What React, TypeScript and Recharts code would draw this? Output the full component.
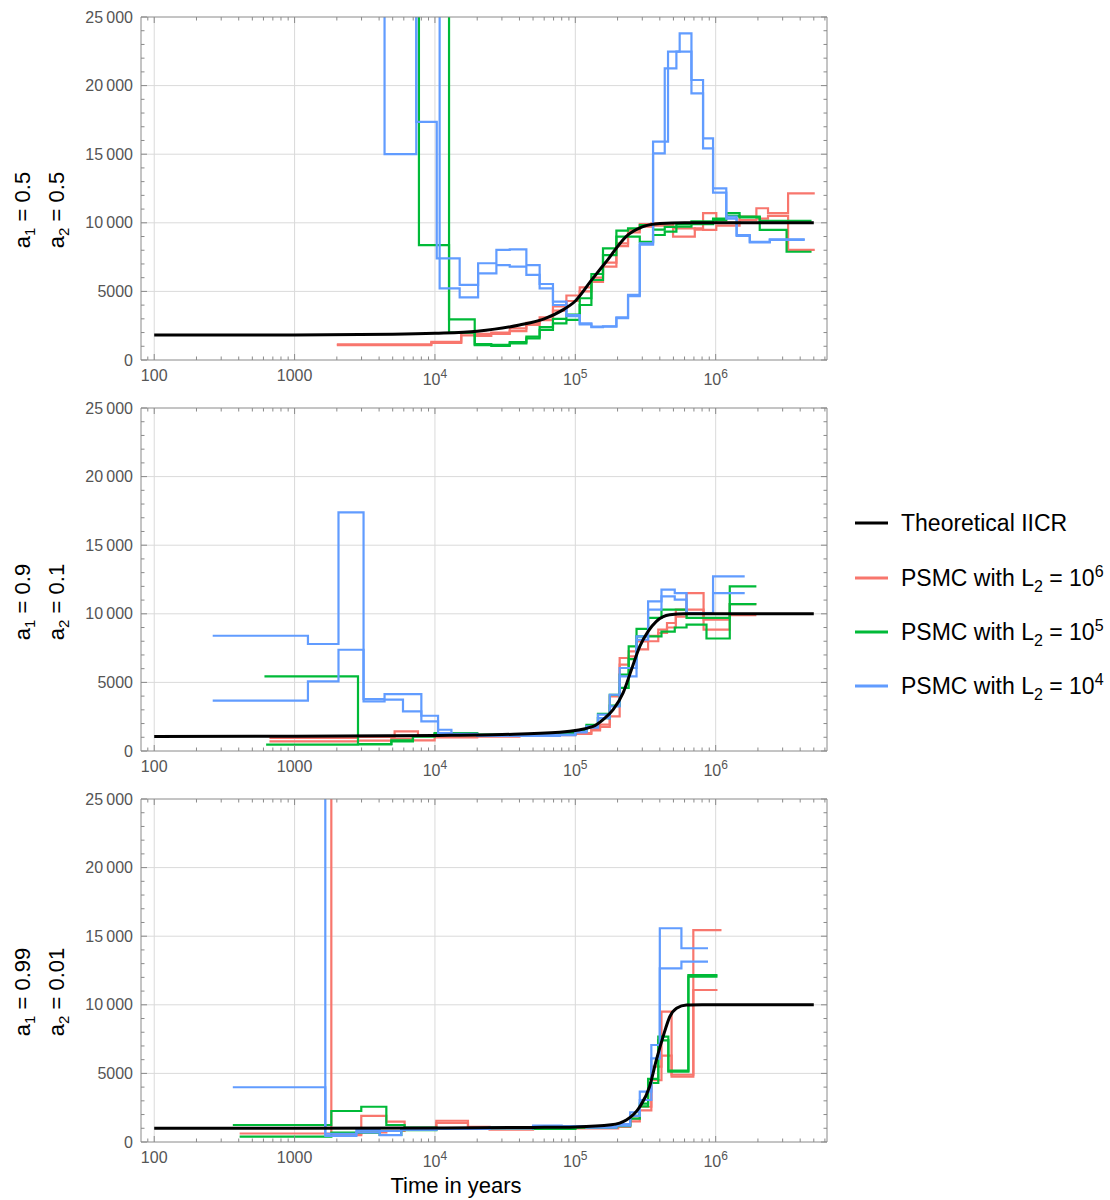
import React from "react";
import { LineChart, Line, XAxis, YAxis, ReferenceLine } from "recharts";

type Pt = [number, number];

// ---- axes ----
const X_DOMAIN: [number, number] = [80.5, 6.21e6];
const X_MAJOR = [100, 1000, 1e4, 1e5, 1e6];
const X_MINOR = [
  90, 200, 300, 400, 500, 600, 700, 800, 900,
  2000, 3000, 4000, 5000, 6000, 7000, 8000, 9000,
  2e4, 3e4, 4e4, 5e4, 6e4, 7e4, 8e4, 9e4,
  2e5, 3e5, 4e5, 5e5, 6e5, 7e5, 8e5, 9e5,
  2e6, 3e6, 4e6, 5e6, 6e6,
];
const Y_MAJOR = [0, 5000, 10000, 15000, 20000, 25000];
const Y_MINOR = [
  1000, 2000, 3000, 4000, 6000, 7000, 8000, 9000, 11000, 12000, 13000, 14000,
  16000, 17000, 18000, 19000, 21000, 22000, 23000, 24000,
];

// ---- panel 1: a1 = 0.5, a2 = 0.5 ----
const iicrTop: Pt[] = [[100, 1820], [1000, 1830], [5000, 1880], [1e4, 1950], [2e4, 2100], [4e4, 2550], [6e4, 3000], [8e4, 3600], [1e5, 4300], [1.3e5, 5800], [1.7e5, 7300], [2.3e5, 9000], [3e5, 9700], [4e5, 9950], [6e5, 10000], [5e6, 10000]];
const redTopA: Pt[] = [[2000, 1140], [9420, 1330], [15400, 1990], [19200, 1750], [25200, 1900], [34100, 2100], [44800, 2550], [55700, 2900], [69300, 3900], [86400, 4300], [107500, 5000], [130200, 5700], [157500, 6800], [196200, 8500], [237500, 9480], [287900, 9720], [348000, 9960], [497000, 8990], [710000, 9600], [813000, 10700], [1.01e6, 10000], [1.48e6, 10450], [1.95e6, 11060], [2.36e6, 10700], [3.28e6, 12150], [5.08e6, 12150]];
const redTopB: Pt[] = [[2000, 1090], [9420, 1250], [15400, 1800], [19200, 1900], [25200, 2000], [34100, 2300], [44800, 2700], [55700, 3100], [69300, 3600], [86400, 4700], [107500, 5300], [130200, 6000], [157500, 7100], [196200, 8300], [237500, 9300], [287900, 9900], [348000, 9800], [497000, 9600], [710000, 9500], [813000, 9490], [1.01e6, 9800], [1.48e6, 10200], [1.95e6, 10300], [2.36e6, 10500], [3.28e6, 8020], [5.08e6, 8020]];
const greenTopA: Pt[] = [[5000, 60000], [7690, 8380], [12600, 2960], [19200, 1090], [25200, 1020], [34100, 1215], [44800, 1580], [55700, 2190], [69300, 2670], [86400, 2920], [107500, 4010], [130200, 5830], [157500, 7650], [196200, 8990], [237500, 8990], [287900, 8620], [358000, 9110], [433600, 9350], [525000, 9720], [672000, 9900], [958000, 10200], [1.19e6, 10700], [1.48e6, 10450], [2.06e6, 9480], [3.2e6, 7890], [4.82e6, 7890]];
const greenTopB: Pt[] = [[5000, 60000], [12600, 1990], [19200, 1150], [25200, 1100], [34100, 1300], [44800, 1700], [55700, 2400], [69300, 3000], [86400, 3300], [107500, 4500], [130200, 6270], [157500, 8140], [196200, 9430], [237500, 9600], [287900, 9840], [358000, 9500], [433600, 9700], [525000, 9900], [672000, 10100], [958000, 10300], [1.19e6, 10500], [1.48e6, 10400], [2.06e6, 10150], [4.82e6, 10150]];
const blueTopA: Pt[] = [[3000, 60000], [7360, 17350], [10300, 7410], [15000, 5470], [20300, 7050], [27400, 8020], [34100, 8070], [44800, 6920], [55700, 5540], [69300, 4250], [86400, 3280], [107500, 2670], [130200, 2430], [157500, 2460], [196200, 3110], [237500, 4740], [287900, 8500], [358000, 15060], [433600, 21260], [525000, 22470], [672000, 20410], [813000, 16160], [958000, 12510], [1.19e6, 10450], [1.41e6, 9110], [1.75e6, 8620], [2.43e6, 8800], [4.31e6, 8800]];
const blueTopB: Pt[] = [[3000, 60000], [4375, 15000], [7360, 60000], [10800, 5220], [15000, 4570], [20300, 6320], [27400, 6920], [34100, 6800], [44800, 6200], [55700, 5220], [69300, 4010], [86400, 3200], [107500, 2600], [130200, 2400], [157500, 2430], [196200, 3050], [237500, 4650], [287900, 8400], [358000, 15910], [457700, 22470], [554000, 23810], [672000, 19440], [813000, 15430], [958000, 12200], [1.19e6, 10300], [1.41e6, 9050], [1.75e6, 8580], [2.43e6, 8750], [4.31e6, 8750]];

// ---- panel 2: a1 = 0.9, a2 = 0.1 ----
const iicrMid: Pt[] = [[100, 1065], [1000, 1070], [1e4, 1130], [3e4, 1200], [7.75e4, 1360], [1.34e5, 1790], [1.575e5, 2280], [1.86e5, 3010], [2.19e5, 4230], [2.51e5, 5930], [2.88e5, 7630], [3.3e5, 8720], [3.78e5, 9450], [4.71e5, 9930], [6e5, 10000], [5e6, 10000]];
const redMidA: Pt[] = [[662, 950], [2830, 1020], [5160, 1430], [7570, 1100], [9950, 1200], [2e4, 1100], [4e4, 1150], [7.75e4, 1190], [1e5, 1300], [1.3e5, 1600], [1.5e5, 1920], [1.76e5, 3980], [2.07e5, 6780], [2.4e5, 7260], [2.73e5, 7990], [3.3e5, 8400], [3.9e5, 8840], [4.5e5, 9330], [5.2e5, 10300], [6.2e5, 11510], [8.2e5, 9570], [1.26e6, 10700], [1.95e6, 10700]];
const redMidB: Pt[] = [[662, 700], [2830, 750], [4890, 900], [6970, 770], [9950, 1000], [2e4, 1050], [4e4, 1100], [7.75e4, 1150], [1e5, 1250], [1.3e5, 1500], [1.5e5, 1750], [1.76e5, 2520], [2.07e5, 6300], [2.4e5, 6900], [2.73e5, 7400], [3.3e5, 8000], [3.9e5, 8600], [4.5e5, 9000], [5.2e5, 9800], [6.2e5, 10300], [8.2e5, 8840], [1.26e6, 9900], [1.95e6, 9900]];
const greenMidA: Pt[] = [[610, 5440], [2830, 510], [4890, 700], [6970, 1065], [9950, 1310], [2e4, 1150], [4e4, 1200], [7.75e4, 1300], [1e5, 1500], [1.2e5, 1900], [1.45e5, 2700], [1.76e5, 4100], [2.07e5, 5560], [2.4e5, 7630], [2.73e5, 8900], [3.3e5, 9700], [4.11e5, 10300], [5.11e5, 10300], [6.2e5, 9700], [8.6e5, 9700], [1.26e6, 12000], [1.95e6, 12000]];
const greenMidB: Pt[] = [[627, 460], [2830, 480], [4890, 770], [6970, 1065], [9950, 1250], [2e4, 1200], [4e4, 1150], [7.75e4, 1250], [1e5, 1450], [1.2e5, 1800], [1.45e5, 2400], [1.76e5, 3300], [2.07e5, 4600], [2.4e5, 6700], [2.73e5, 8350], [3.3e5, 8350], [4.11e5, 8700], [5.11e5, 9000], [6.2e5, 9210], [8.6e5, 8200], [1.26e6, 10700], [1.95e6, 10700]];
const blueMidA: Pt[] = [[261, 8400], [1245, 7800], [2055, 17390], [3100, 3790], [4375, 4150], [5920, 4150], [8000, 2570], [10520, 1550], [13100, 1250], [2e4, 1150], [4e4, 1150], [7.75e4, 1200], [1e5, 1400], [1.2e5, 1800], [1.45e5, 2650], [1.76e5, 4100], [2.07e5, 5440], [2.31e5, 5440], [2.73e5, 8350], [3.3e5, 10900], [4.11e5, 11760], [5.11e5, 11510], [6.2e5, 10060], [9.58e5, 12730], [1.61e6, 12730]];
const blueMidB: Pt[] = [[261, 3670], [1245, 5070], [2055, 7380], [3100, 3620], [4375, 3740], [5920, 2890], [8000, 2160], [10520, 1310], [13100, 1200], [2e4, 1100], [4e4, 1100], [7.75e4, 1150], [1e5, 1350], [1.2e5, 1700], [1.45e5, 2400], [1.76e5, 3250], [2.07e5, 6050], [2.31e5, 6050], [2.73e5, 8110], [3.3e5, 10300], [4.11e5, 11270], [5.11e5, 11030], [6.2e5, 10060], [9.58e5, 11510], [1.61e6, 11510]];

// ---- panel 3: a1 = 0.99, a2 = 0.01 ----
const iicrBot: Pt[] = [[100, 1000], [1000, 1000], [1e4, 1020], [5e4, 1060], [1e5, 1100], [1.8e5, 1250], [2.31e5, 1600], [2.88e5, 2570], [3.38e5, 4030], [3.78e5, 5980], [4.22e5, 7680], [4.71e5, 9130], [5.26e5, 9750], [6.2e5, 9990], [8e5, 10000], [5e6, 10000]];
const redBotA: Pt[] = [[406, 620], [1827, 500], [2986, 1900], [4505, 1480], [6080, 1000], [10230, 1550], [17190, 1100], [24500, 900], [5e4, 1050], [1e5, 1050], [1.96e5, 1200], [2.46e5, 1500], [2.88e5, 2570], [3.48e5, 4500], [4.11e5, 9500], [4.85e5, 4760], [6.93e5, 15450], [1.1e6, 15450]];
const redBotB: Pt[] = [[406, 80000], [1827, 600], [2986, 700], [4505, 800], [6080, 950], [10230, 1400], [17190, 1050], [24500, 1000], [5e4, 1000], [1e5, 1000], [2.02e5, 1100], [2.46e5, 1700], [2.88e5, 2300], [3.48e5, 5500], [4.11e5, 6300], [4.85e5, 4900], [6.93e5, 11080], [1.03e6, 11080]];
const greenBotA: Pt[] = [[363, 1240], [1827, 2260], [2986, 2570], [4505, 1240], [6080, 1050], [10230, 1000], [24500, 1050], [5e4, 950], [1e5, 1100], [1.96e5, 1250], [2.46e5, 1900], [2.88e5, 2800], [3.3e5, 4600], [3.9e5, 7680], [4.6e5, 5120], [6.39e5, 12170], [1.03e6, 12170]];
const greenBotB: Pt[] = [[406, 390], [1827, 680], [2986, 680], [4036, 510], [5760, 870], [10230, 950], [24500, 1000], [5e4, 1000], [1e5, 1050], [1.96e5, 1150], [2.46e5, 1700], [2.88e5, 2600], [3.3e5, 4300], [3.9e5, 7400], [4.6e5, 5200], [6.39e5, 12050], [1.03e6, 12050]];
const blueBotA: Pt[] = [[363, 3990], [1655, 440], [2756, 870], [4036, 500], [5760, 900], [10230, 1000], [24500, 1050], [5e4, 1150], [8e4, 1100], [1.2e5, 1100], [1.96e5, 1300], [2.46e5, 2170], [2.88e5, 3670], [3.48e5, 7070], [4.0e5, 15580], [5.7e5, 14120], [8.82e5, 14120]];
const blueBotB: Pt[] = [[363, 80000], [1655, 600], [2756, 700], [4036, 800], [5760, 900], [10230, 950], [24500, 1000], [5e4, 1200], [8e4, 1150], [1.2e5, 1050], [1.96e5, 1200], [2.46e5, 1900], [2.88e5, 3060], [3.48e5, 6100], [4.0e5, 12660], [5.7e5, 13140], [8.82e5, 13140]];

const FONT = '"Liberation Sans", Arial, Helvetica, sans-serif';
const FRAME = "#8a8a8a";
const LABEL = "#555";
const GRID = "#dadada";
const RED = "#F8766D";
const GREEN = "#00BA38";
const BLUE = "#619CFF";

const PLOT_LEFT = 141;
const PLOT_RIGHT = 827;
const PLOT_H = 343;
const M_TOP = 15;
const M_BOTTOM = 40;
const CHART_W = 860;

const rows = (pts: Pt[]) => pts.map(([t, n]) => ({ t, n }));
const X_TICKS = [...X_MAJOR, ...X_MINOR].sort((a, b) => a - b);
const Y_TICKS = [...Y_MAJOR, ...Y_MINOR].sort((a, b) => a - b);

const isMajorX = (v: number) => X_MAJOR.includes(v);
const isMajorY = (v: number) => Y_MAJOR.includes(v);

function yText(v: number) {
  if (v >= 10000) return `${Math.floor(v / 1000)}\u2009000`;
  return String(v);
}

function BottomTick(props: any) {
  const { x, y, payload } = props;
  const v = payload.value;
  const major = isMajorX(v);
  let label = null;
  if (major && v < 1e4) {
    label = (
      <text x={x} y={y + 21} textAnchor="middle" fontSize={16} fill={LABEL} fontFamily={FONT}>
        {v}
      </text>
    );
  } else if (major) {
    label = (
      <text x={x} y={y + 25} textAnchor="middle" fontSize={16} fill={LABEL} fontFamily={FONT}>
        10<tspan dy={-7} fontSize={12}>{Math.round(Math.log10(v))}</tspan>
      </text>
    );
  }
  return (
    <g>
      <line x1={x} x2={x} y1={y} y2={y - (major ? 6 : 3.5)} stroke={FRAME} />
      {label}
    </g>
  );
}

function TopTick(props: any) {
  const { x, y, payload } = props;
  const major = isMajorX(payload.value);
  return <line x1={x} x2={x} y1={y} y2={y + (major ? 6 : 3.5)} stroke={FRAME} />;
}

function LeftTick(props: any) {
  const { x, y, payload } = props;
  const v = payload.value;
  const major = isMajorY(v);
  return (
    <g>
      <line x1={x} x2={x + (major ? 6 : 3.5)} y1={y} y2={y} stroke={FRAME} />
      {major ? (
        <text x={x - 8} y={y + 5.5} textAnchor="end" fontSize={16} fill={LABEL} fontFamily={FONT}>
          {yText(v)}
        </text>
      ) : null}
    </g>
  );
}

function RightTick(props: any) {
  const { x, y, payload } = props;
  const major = isMajorY(payload.value);
  return <line x1={x} x2={x - (major ? 6 : 3.5)} y1={y} y2={y} stroke={FRAME} />;
}

type PanelProps = {
  top: number;
  iicr: Pt[];
  red: Pt[][];
  green: Pt[][];
  blue: Pt[][];
};

// axes need a size of at least 1px to be drawn, so the margins give that pixel back
function Panel({ top, iicr, red, green, blue }: PanelProps) {
  const step = (pts: Pt[], color: string, key: string) => (
    <Line
      key={key}
      xAxisId="b"
      yAxisId="l"
      data={rows(pts)}
      dataKey="n"
      type="stepAfter"
      stroke={color}
      strokeWidth={2.2}
      dot={false}
      activeDot={false}
      isAnimationActive={false}
    />
  );
  return (
    <div style={{ position: "absolute", left: 0, top: top - M_TOP }}>
      <LineChart
        width={CHART_W}
        height={M_TOP + PLOT_H + M_BOTTOM}
        margin={{ top: M_TOP - 1, right: CHART_W - PLOT_RIGHT - 1, bottom: M_BOTTOM - 1, left: PLOT_LEFT - 1 }}
      >
        <XAxis xAxisId="b" type="number" dataKey="t" scale="log" domain={X_DOMAIN} allowDataOverflow
          ticks={X_TICKS} interval={0} tickSize={0} tickMargin={0} height={1} tickLine={false}
          axisLine={{ stroke: FRAME }} tick={(p: any) => <BottomTick {...p} />} />
        <XAxis xAxisId="t" orientation="top" type="number" dataKey="t" scale="log" domain={X_DOMAIN} allowDataOverflow
          ticks={X_TICKS} interval={0} tickSize={0} tickMargin={0} height={1} tickLine={false}
          axisLine={{ stroke: FRAME }} tick={(p: any) => <TopTick {...p} />} />
        <YAxis yAxisId="l" type="number" domain={[0, 25000]} allowDataOverflow ticks={Y_TICKS} interval={0}
          tickSize={0} tickMargin={0} width={1} tickLine={false} axisLine={{ stroke: FRAME }}
          tick={(p: any) => <LeftTick {...p} />} />
        <YAxis yAxisId="r" orientation="right" type="number" domain={[0, 25000]} allowDataOverflow ticks={Y_TICKS}
          interval={0} tickSize={0} tickMargin={0} width={1} tickLine={false} axisLine={{ stroke: FRAME }}
          tick={(p: any) => <RightTick {...p} />} />
        {X_MAJOR.map((v) => (
          <ReferenceLine key={`gx${v}`} xAxisId="b" yAxisId="l" x={v} stroke={GRID} strokeWidth={1} />
        ))}
        {Y_MAJOR.filter((v) => v > 0 && v < 25000).map((v) => (
          <ReferenceLine key={`gy${v}`} xAxisId="b" yAxisId="l" y={v} stroke={GRID} strokeWidth={1} />
        ))}
        {red.map((s, i) => step(s, RED, `r${i}`))}
        {green.map((s, i) => step(s, GREEN, `g${i}`))}
        {blue.map((s, i) => step(s, BLUE, `b${i}`))}
        <Line xAxisId="b" yAxisId="l" data={rows(iicr)} dataKey="n" type="monotone" stroke="#000"
          strokeWidth={3} dot={false} activeDot={false} isAnimationActive={false} />
      </LineChart>
    </div>
  );
}

function SideLabel({ cy, a1, a2 }: { cy: number; a1: string; a2: string }) {
  const line = (x: number, sub: string, val: string) => (
    <text transform={`translate(${x}, ${cy}) rotate(-90)`} textAnchor="middle" fontSize={22}
      fontFamily={FONT} fill="#000">
      a<tspan dy={5} fontSize={15}>{sub}</tspan><tspan dy={-5}>{` = ${val}`}</tspan>
    </text>
  );
  return (
    <g>
      {line(30, "1", a1)}
      {line(64, "2", a2)}
    </g>
  );
}

const LEGEND = [
  { color: "#000", exp: "" },
  { color: RED, exp: "6" },
  { color: GREEN, exp: "5" },
  { color: BLUE, exp: "4" },
];
const LEGEND_Y = [523, 578, 632, 686];

function Legend() {
  return (
    <g fontFamily={FONT} fontSize={23} fill="#000">
      {LEGEND.map((e, i) => (
        <g key={i}>
          <line x1={855} x2={888} y1={LEGEND_Y[i]} y2={LEGEND_Y[i]} stroke={e.color} strokeWidth={3} />
          {e.exp === "" ? (
            <text x={901} y={LEGEND_Y[i] + 8}>Theoretical IICR</text>
          ) : (
            <text x={901} y={LEGEND_Y[i] + 8}>
              PSMC with L<tspan dy={6} fontSize={16}>2</tspan>
              <tspan dy={-6}> = 10</tspan>
              <tspan dy={-9} fontSize={16}>{e.exp}</tspan>
            </text>
          )}
        </g>
      ))}
    </g>
  );
}

export default function App() {
  return (
    <div style={{ position: "absolute", left: 0, top: 0, width: 1110, height: 1200, background: "#fff" }}>
      <Panel top={17} iicr={iicrTop} red={[redTopA, redTopB]} green={[greenTopA, greenTopB]} blue={[blueTopA, blueTopB]} />
      <Panel top={408} iicr={iicrMid} red={[redMidA, redMidB]} green={[greenMidA, greenMidB]} blue={[blueMidA, blueMidB]} />
      <Panel top={799} iicr={iicrBot} red={[redBotA, redBotB]} green={[greenBotA, greenBotB]} blue={[blueBotA, blueBotB]} />
      <svg width={1110} height={1200} style={{ position: "absolute", left: 0, top: 0, pointerEvents: "none" }}>
        <SideLabel cy={210} a1="0.5" a2="0.5" />
        <SideLabel cy={602} a1="0.9" a2="0.1" />
        <SideLabel cy={992} a1="0.99" a2="0.01" />
        <Legend />
        <text x={456} y={1193} textAnchor="middle" fontSize={22} fontFamily={FONT} fill="#000">
          Time in years
        </text>
      </svg>
    </div>
  );
}
